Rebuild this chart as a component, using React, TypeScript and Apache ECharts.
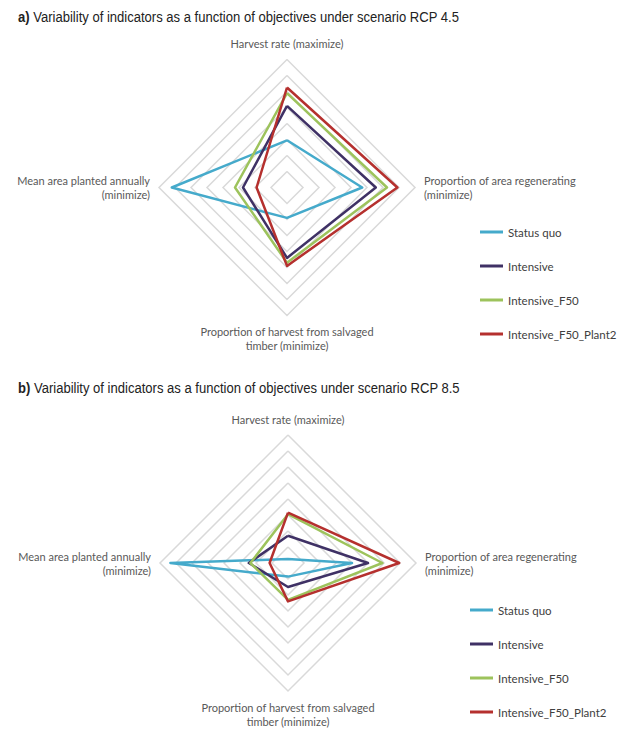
import React, { useEffect, useRef } from "react";
import * as echarts from "echarts";

const indicators = [
  "Harvest rate (maximize)",
  "Mean area planted annually\n(minimize)",
  "Proportion of harvest from salvaged\ntimber (minimize)",
  "Proportion of area regenerating\n(minimize)",
];
const seriesNames = ["Status quo", "Intensive", "Intensive_F50", "Intensive_F50_Plant2"];
const colors = ["#45AACB", "#3F3165", "#9DC35C", "#B5302E"];

const rcp45StatusQuo = [2.95, 7.2, 1.9, 4.7];
const rcp45Intensive = [5.1, 2.75, 4.4, 5.55];
const rcp45F50 = [5.9, 3.25, 4.7, 6.25];
const rcp45Plant2 = [6.25, 1.9, 4.9, 6.9];

const rcp85StatusQuo = [0.25, 7.35, 0.85, 4.0];
const rcp85Intensive = [1.7, 2.45, 1.5, 5.0];
const rcp85F50 = [3.05, 2.35, 2.3, 5.9];
const rcp85Plant2 = [3.15, 1.15, 2.4, 6.95];

const titleA = "Variability of indicators as a function of objectives under scenario RCP 4.5";
const titleB = "Variability of indicators as a function of objectives under scenario RCP 8.5";

const AXIS_MAX = 8;

export default function App() {
  const ref = useRef<HTMLDivElement>(null);
  useEffect(() => {
    if (!ref.current) return;
    const chart = echarts.init(ref.current, null, { renderer: "svg" });
    const radarCommon = {
      shape: "polygon" as const,
      startAngle: 90,
      radius: 128,
      splitNumber: 8,
      indicator: indicators.map((n) => ({ name: n, max: AXIS_MAX, min: 0 })),
      nameGap: 9,
      axisName: {
        color: "#595959",
        fontFamily: "Lato",
        fontSize: 11,
        lineHeight: 14,
      },
      axisLine: { show: false },
      splitArea: { show: false },
      splitLine: { lineStyle: { color: "#D9D9D9", width: 1.5 } },
      axisTick: { show: false },
      axisLabel: { show: false },
    };
    const mkSeries = (radarIndex: number, arrs: number[][]) => ({
      type: "radar",
      radarIndex,
      symbol: "none",
      data: arrs.map((v, i) => ({
        name: seriesNames[i],
        value: v,
        lineStyle: { color: colors[i], width: 2.5 },
        itemStyle: { color: colors[i] },
      })),
    });
    const legendCommon = {
      orient: "vertical" as const,
      icon: "rect",
      itemWidth: 23,
      itemHeight: 3,
      itemGap: 22,
      data: seriesNames,
      textStyle: { fontFamily: "Lato", fontSize: 11.5, color: "#404040" },
    };
    const mkTitle = (prefix: string, t: string, top: number) => ({
      type: "text",
      left: 18,
      top,
      scaleX: 0.87,
      style: {
        text: "{b|" + prefix + "} " + t,
        fontFamily: "Liberation Sans",
        fontSize: 15,
        fill: "#222",
        rich: { b: { fontWeight: "bold", fontFamily: "Liberation Sans", fontSize: 15 } },
      },
    });
    chart.setOption({
      animation: false,
      color: colors,
      radar: [
        { ...radarCommon, center: [287, 187.5] },
        { ...radarCommon, center: [288, 563] },
      ],
      legend: [
        { ...legendCommon, left: 475, top: 221 },
        { ...legendCommon, left: 465, top: 599 },
      ],
      series: [
        mkSeries(0, [rcp45StatusQuo, rcp45Intensive, rcp45F50, rcp45Plant2]),
        mkSeries(1, [rcp85StatusQuo, rcp85Intensive, rcp85F50, rcp85Plant2]),
      ],
      graphic: [mkTitle("a)", titleA, 9), mkTitle("b)", titleB, 380)],
    });
    return () => chart.dispose();
  }, []);
  return (
    <div
      ref={ref}
      style={{ position: "fixed", left: 0, top: 0, width: 618, height: 729, background: "#fff" }}
    />
  );
}
